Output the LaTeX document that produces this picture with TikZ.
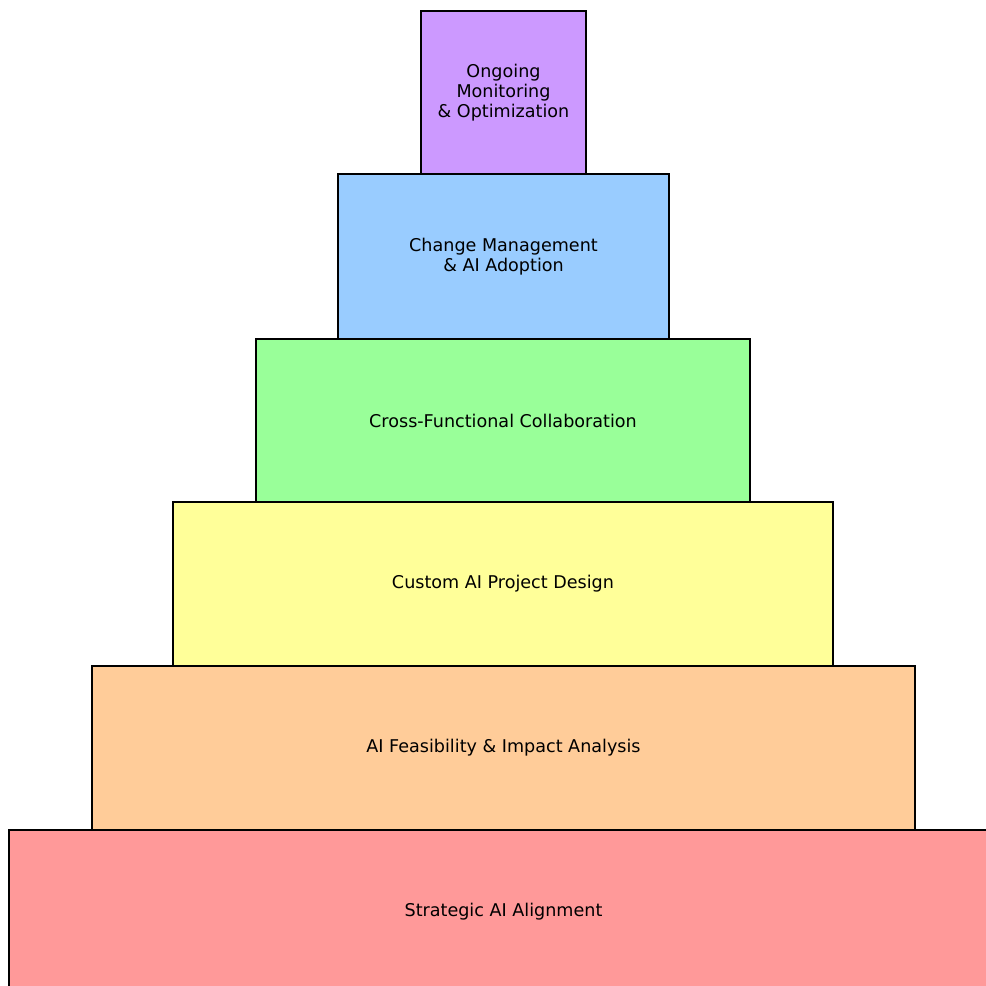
\documentclass[tikz,border=0pt]{standalone}
\usepackage{fontspec}
\setmainfont{DejaVu Sans}
\usepackage{tikz}
\usetikzlibrary{positioning}

\definecolor{purplelayer}{HTML}{CC99FF}
\definecolor{bluelayer}{HTML}{99CCFF}
\definecolor{greenlayer}{HTML}{99FF99}
\definecolor{yellowlayer}{HTML}{FFFF99}
\definecolor{orangelayer}{HTML}{FFCC99}
\definecolor{redlayer}{HTML}{FF9999}

\tikzset{layer/.style={draw=black,line width=0.8pt,rectangle,inner sep=0pt,outer sep=0pt,
  align=center,font=\fontsize{10}{11.4}\selectfont}}

\begin{document}
\begin{tikzpicture}[x=0.02cm,y=-0.02cm]
\useasboundingbox (0,0) rectangle (986,986);
\clip (0,0) rectangle (986,986);
\node[layer,fill=redlayer,minimum width=19.78cm,minimum height=3.28cm] (strategic) at (503.5,912) {Strategic AI Alignment};
\node[layer,fill=orangelayer,minimum width=16.46cm,minimum height=3.28cm] (feasibility) at (503.5,748) {AI Feasibility \& Impact Analysis};
\node[layer,fill=yellowlayer,minimum width=13.20cm,minimum height=3.28cm] (design) at (503,584) {Custom AI Project Design};
\node[layer,fill=greenlayer,minimum width=9.88cm,minimum height=3.26cm] (collab) at (503,420.5) {Cross-Functional Collaboration};
\node[layer,fill=bluelayer,minimum width=6.62cm,minimum height=3.30cm] (change) at (503.5,256.5) {Change Management\\\& AI Adoption};
\node[layer,fill=purplelayer,minimum width=3.30cm,minimum height=3.26cm] (monitor) at (503.5,92.5) {Ongoing\\Monitoring\\\& Optimization};
\end{tikzpicture}
\end{document}
